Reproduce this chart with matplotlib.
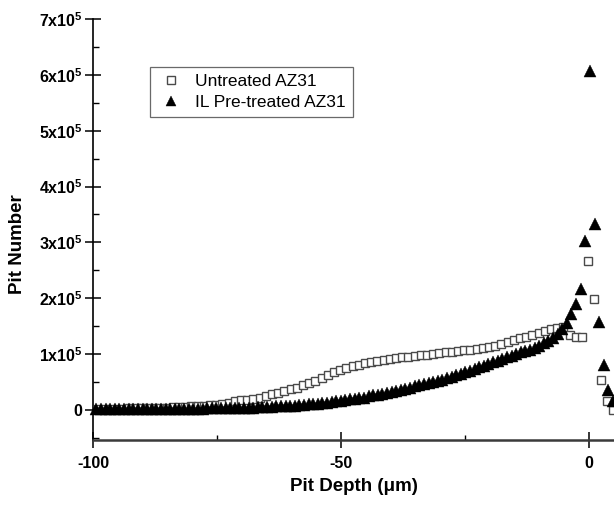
import numpy as np
import matplotlib
matplotlib.use("Agg")
import matplotlib.pyplot as plt
from matplotlib.ticker import FixedLocator, MultipleLocator

plt.rcParams['font.family'] = ['Liberation Sans', 'DejaVu Sans']
plt.rcParams['mathtext.fontset'] = 'custom'
plt.rcParams['mathtext.rm'] = 'Liberation Sans:bold'
plt.rcParams['mathtext.bf'] = 'Liberation Sans:bold'
plt.rcParams['mathtext.it'] = 'Liberation Sans:bold'

# ---- data (Pit Number in units of 1e5) ----
untreated_start, untreated_step = -98.9, 1.25
untreated_y = [
    0.02, 0.02, 0.02, 0.02, 0.02, 0.03, 0.03, 0.03, 0.03, 0.04,
    0.04, 0.04, 0.05, 0.05, 0.05, 0.06, 0.07, 0.07, 0.08, 0.09,
    0.11, 0.13, 0.15, 0.17, 0.18, 0.20, 0.22, 0.25, 0.28, 0.31,
    0.34, 0.37, 0.40, 0.44, 0.48, 0.52, 0.57, 0.62, 0.67, 0.72,
    0.75, 0.78, 0.81, 0.84, 0.86, 0.87, 0.89, 0.91, 0.92, 0.94,
    0.95, 0.97, 0.98, 0.99, 1.00, 1.02, 1.03, 1.04, 1.05, 1.07,
    1.08, 1.09, 1.11, 1.13, 1.15, 1.18, 1.21, 1.25, 1.28, 1.31,
    1.34, 1.37, 1.41, 1.45, 1.47, 1.48, 1.34, 1.30, 1.31, 2.66,
    1.99, 0.53, 0.16, 0.00,
]
treated_start, treated_step = -99.31, 0.93
treated_y = [
    0.01, 0.01, 0.01, 0.01, 0.01, 0.01, 0.01, 0.01, 0.01, 0.01,
    0.01, 0.01, 0.01, 0.01, 0.02, 0.02, 0.02, 0.02, 0.02, 0.02,
    0.02, 0.02, 0.02, 0.02, 0.03, 0.03, 0.03, 0.03, 0.03, 0.03,
    0.04, 0.04, 0.04, 0.04, 0.04, 0.05, 0.05, 0.05, 0.05, 0.06,
    0.06, 0.06, 0.07, 0.07, 0.08, 0.09, 0.10, 0.10, 0.11, 0.12,
    0.13, 0.14, 0.15, 0.16, 0.17, 0.19, 0.20, 0.21, 0.22, 0.24,
    0.26, 0.27, 0.29, 0.31, 0.32, 0.34, 0.36, 0.38, 0.40, 0.42,
    0.44, 0.46, 0.48, 0.50, 0.52, 0.54, 0.57, 0.59, 0.62, 0.64,
    0.67, 0.70, 0.73, 0.76, 0.79, 0.82, 0.85, 0.88, 0.91, 0.94,
    0.97, 1.00, 1.03, 1.06, 1.08, 1.11, 1.14, 1.19, 1.24, 1.29,
    1.35, 1.44, 1.56, 1.72, 1.90, 2.16, 3.02, 6.06, 3.33, 1.57,
    0.81, 0.36, 0.16,
]
series_labels = ["Untreated AZ31", "IL Pre-treated AZ31"]
x_ticks = [-100, -50, 0]
y_ticks = [0, 1, 2, 3, 4, 5, 6, 7]

x_un = untreated_start + untreated_step * np.arange(len(untreated_y))
x_tr = treated_start + treated_step * np.arange(len(treated_y))
y_un = np.array(untreated_y) * 1e5
y_tr = np.array(treated_y) * 1e5

W, H = 614, 505
fig = plt.figure(figsize=(W / 100, H / 100), dpi=100)
ax = fig.add_axes([93 / W, 1 - 440 / H, (W - 93) / W, (440 - 19) / H])

ax.plot(x_un, y_un, linestyle='none', marker='s', markersize=6.4,
        markerfacecolor='white', markeredgecolor='#4a4a4a', markeredgewidth=1.0,
        label=series_labels[0], clip_on=False, zorder=3)
ax.plot(x_tr, y_tr, linestyle='none', marker='^', markersize=8.0,
        markerfacecolor='black', markeredgecolor='black', markeredgewidth=0.3,
        label=series_labels[1], clip_on=False, zorder=4)

ax.set_xlim(-100, 5.05)
ax.set_ylim(-0.54e5, 7e5)

ax.spines['top'].set_visible(False)
ax.spines['right'].set_visible(False)
ax.spines['left'].set_linewidth(1.2)
ax.spines['left'].set_color('black')
ax.spines['bottom'].set_linewidth(1.8)
ax.spines['bottom'].set_color('#3a3a3a')

ax.xaxis.set_major_locator(FixedLocator(x_ticks))
ax.xaxis.set_minor_locator(FixedLocator([-75, -25]))
ax.set_xticklabels([str(v) for v in x_ticks])
ax.yaxis.set_major_locator(FixedLocator([v * 1e5 for v in y_ticks]))
ax.yaxis.set_minor_locator(MultipleLocator(0.5e5))
ax.set_yticklabels(['0' if v == 0 else r'$\mathbf{%dx10^{5}}$' % v for v in y_ticks])

ax.tick_params(axis='both', which='major', direction='inout', length=11.5,
               width=1.1, color='black', labelsize=11.5)
ax.tick_params(axis='x', which='major', pad=6)
ax.tick_params(axis='y', which='major', pad=2)
ax.tick_params(axis='y', which='minor', direction='in', length=4.5, width=1.0)
ax.tick_params(axis='x', which='minor', direction='in', length=3.5, width=1.0)
for lab in ax.get_xticklabels() + ax.get_yticklabels():
    lab.set_fontweight('bold')

ax.set_xlabel('Pit Depth (μm)', fontsize=13.5, fontweight='bold', labelpad=5)
ax.set_ylabel('Pit Number', fontsize=13.5, fontweight='bold')
ax.yaxis.set_label_coords(-0.128, 0.465)

leg = ax.legend(loc='upper left', bbox_to_anchor=((150 - 93) / (W - 93), (440 - 67) / (440 - 19)),
                fontsize=12.5, frameon=True, fancybox=False, edgecolor='#444444',
                borderpad=0.4, handletextpad=0.6, handlelength=1.6, labelspacing=0.35,
                borderaxespad=0)
leg.get_frame().set_linewidth(0.9)
leg.legend_handles[0].set_markersize(5.5)
leg.legend_handles[1].set_markersize(7.5)

fig.savefig('out.png', dpi=100)
